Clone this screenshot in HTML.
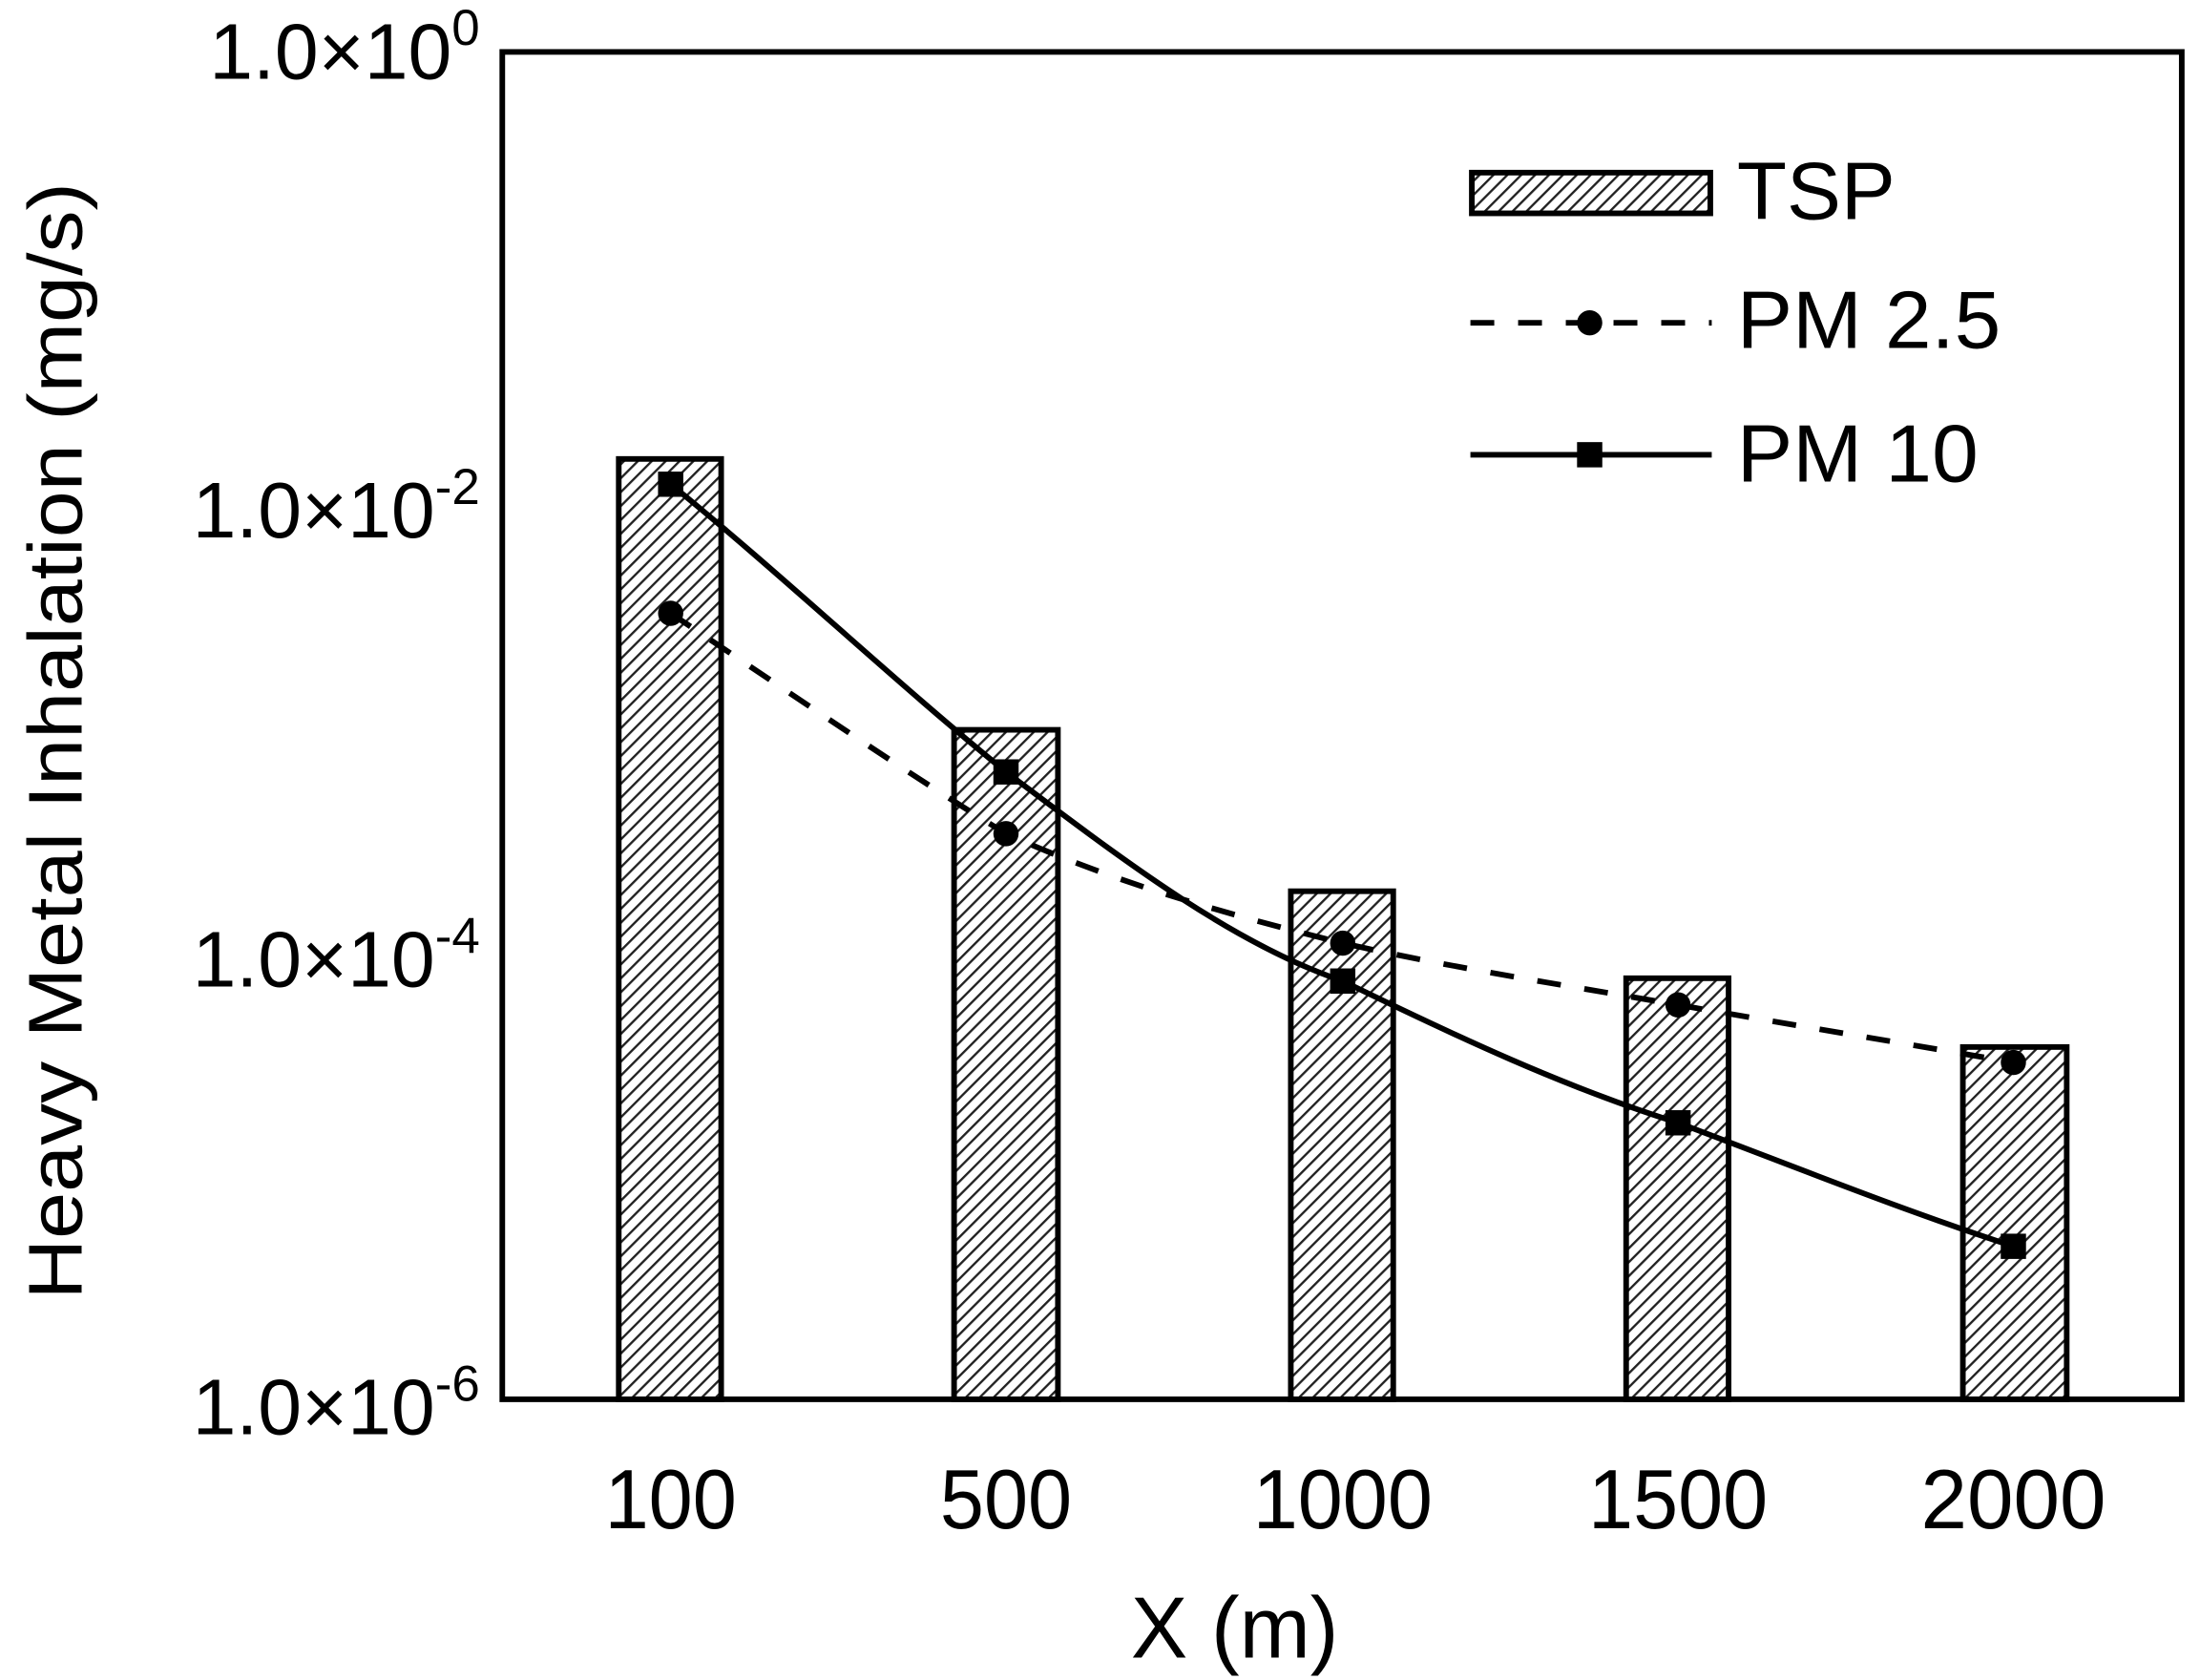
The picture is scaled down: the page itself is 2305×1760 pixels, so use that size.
<!DOCTYPE html>
<html><head><meta charset="utf-8"><style>html,body{margin:0;padding:0;background:#fff}svg{display:block}</style></head>
<body>
<svg width="2305" height="1760" viewBox="0 0 1568 1197" preserveAspectRatio="none" xmlns="http://www.w3.org/2000/svg" font-family="Liberation Sans, Arial, sans-serif">
<defs>
<pattern id="h" patternUnits="userSpaceOnUse" width="7" height="7" patternTransform="rotate(45)">
<rect width="7" height="7" fill="#fff"/>
<line x1="0" y1="0" x2="0" y2="7" stroke="#222" stroke-width="3.2"/>
</pattern>
</defs>
<rect width="1568" height="1197" fill="#fff"/>
<g stroke="#000" stroke-width="4" fill="url(#h)">
<rect x="441" y="327" width="73" height="670"/>
<rect x="680" y="520" width="74" height="477"/>
<rect x="920" y="635" width="73" height="362"/>
<rect x="1159" y="697" width="73" height="300"/>
<rect x="1399" y="746" width="74" height="251"/>
</g>
<path d="M478,437 C558,490 637,545 717,594 C797,630 877,652 957,672 C1037,690 1116,702 1196,716 C1276,730 1355,743 1435,757" fill="none" stroke="#000" stroke-width="4" stroke-dasharray="17,17"/>
<g fill="#000">
<circle cx="478" cy="437" r="9"/><circle cx="717" cy="594" r="9"/><circle cx="957" cy="672" r="9"/><circle cx="1196" cy="716" r="9"/><circle cx="1435" cy="757" r="9"/>
</g>
<path d="M478,345 C558,410 637,485 717,550 C797,610 877,672 957,699 C1037,738 1116,775 1196,800 C1276,830 1355,862 1435,888" fill="none" stroke="#000" stroke-width="4"/>
<g fill="#000">
<rect x="469" y="336" width="18" height="18"/><rect x="708" y="541" width="18" height="18"/><rect x="948" y="690" width="18" height="18"/><rect x="1187" y="791" width="18" height="18"/><rect x="1426" y="879" width="18" height="18"/>
</g>
<rect x="358" y="37" width="1197" height="960" fill="none" stroke="#000" stroke-width="4"/>
<rect x="1049" y="123" width="170" height="29" fill="url(#h)" stroke="#000" stroke-width="4"/>
<text x="1238" y="156" font-size="58">TSP</text>
<line x1="1048" y1="230" x2="1220" y2="230" stroke="#000" stroke-width="4" stroke-dasharray="17,17"/>
<circle cx="1133" cy="230" r="9"/>
<text x="1238" y="248" font-size="58" textLength="188" lengthAdjust="spacingAndGlyphs">PM 2.5</text>
<line x1="1048" y1="324" x2="1220" y2="324" stroke="#000" stroke-width="4"/>
<rect x="1124" y="315" width="18" height="18"/>
<text x="1238" y="343" font-size="58" textLength="172" lengthAdjust="spacingAndGlyphs">PM 10</text>
<g font-size="56" text-anchor="end">
<text x="342" y="56">1.0×10<tspan font-size="36" dy="-24">0</tspan></text>
<text x="342" y="383">1.0×10<tspan font-size="36" dy="-24">-2</tspan></text>
<text x="342" y="703">1.0×10<tspan font-size="36" dy="-24">-4</tspan></text>
<text x="342" y="1022">1.0×10<tspan font-size="36" dy="-24">-6</tspan></text>
</g>
<g font-size="60" text-anchor="middle">
<text x="478" y="1089" textLength="94" lengthAdjust="spacingAndGlyphs">100</text>
<text x="717" y="1089" textLength="94" lengthAdjust="spacingAndGlyphs">500</text>
<text x="957" y="1089" textLength="128" lengthAdjust="spacingAndGlyphs">1000</text>
<text x="1196" y="1089" textLength="128" lengthAdjust="spacingAndGlyphs">1500</text>
<text x="1435" y="1089" textLength="132" lengthAdjust="spacingAndGlyphs">2000</text>
</g>
<text x="880" y="1181" font-size="62" text-anchor="middle" textLength="148" lengthAdjust="spacingAndGlyphs">X (m)</text>
<text transform="translate(58,528) rotate(-90)" font-size="54" text-anchor="middle" textLength="796" lengthAdjust="spacingAndGlyphs">Heavy Metal Inhalation (mg/s)</text>
</svg>
</body></html>
